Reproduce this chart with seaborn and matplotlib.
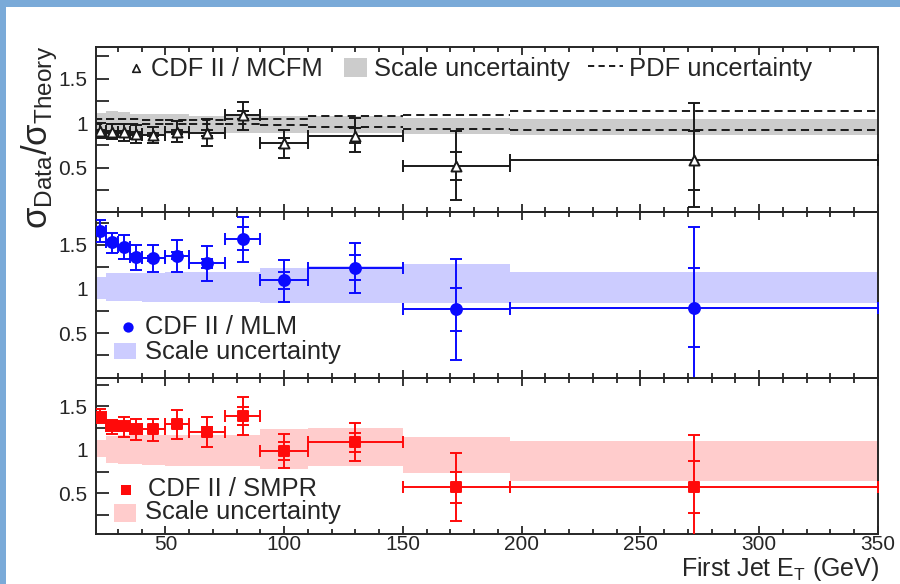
import matplotlib
matplotlib.use("Agg")
import matplotlib.pyplot as plt
import seaborn as sns
import pandas as pd
from matplotlib.patches import Rectangle

# ---- binning in leading-jet E_T (GeV) ----
bin_lo = [20, 25, 30, 35, 40, 50, 60, 75, 90, 110, 150, 195]
bin_hi = [25, 30, 35, 40, 50, 60, 75, 90, 110, 150, 195, 350]
et_center = [22.5, 27.5, 32.5, 37.5, 45, 55, 67.5, 82.5, 100, 130, 172.5, 272.5]

# ---- CDF II / MCFM ----
mcfm_ratio = [0.91, 0.90, 0.90, 0.88, 0.87, 0.90, 0.89, 1.09, 0.775, 0.86, 0.52, 0.58]
mcfm_tot_hi = [1.00, 0.99, 0.99, 0.98, 0.96, 1.02, 1.04, 1.24, 0.925, 1.06, 0.91, 1.22]
mcfm_tot_lo = [0.83, 0.82, 0.80, 0.78, 0.78, 0.79, 0.745, 0.92, 0.61, 0.68, 0.14, 0.06]
mcfm_stat = [0.01, 0.01, 0.015, 0.015, 0.015, 0.02, 0.03, 0.05, 0.06, 0.08, 0.16, 0.33]
mcfm_scale_hi = [1.11, 1.13, 1.12, 1.10, 1.10, 1.10, 1.08, 1.08, 1.08, 1.08, 1.06, 1.04]
mcfm_scale_lo = [0.87, 0.87, 0.87, 0.88, 0.88, 0.88, 0.89, 0.89, 0.89, 0.89, 0.88, 0.87]
mcfm_pdf_hi = [1.04, 1.04, 1.04, 1.04, 1.035, 1.035, 1.035, 1.045, 1.05, 1.075, 1.095, 1.14]
mcfm_pdf_lo = [0.99, 0.99, 0.99, 0.99, 0.985, 0.985, 0.985, 0.985, 0.975, 0.955, 0.935, 0.925]

# ---- CDF II / MLM ----
mlm_ratio = [1.66, 1.53, 1.47, 1.36, 1.345, 1.375, 1.29, 1.565, 1.10, 1.24, 0.77, 0.79]
mlm_tot_hi = [1.78, 1.63, 1.61, 1.50, 1.50, 1.55, 1.485, 1.81, 1.33, 1.515, 1.34, 1.705]
mlm_tot_lo = [1.53, 1.41, 1.34, 1.21, 1.19, 1.19, 1.09, 1.30, 0.85, 0.96, 0.20, -0.05]
mlm_stat = [0.02, 0.02, 0.02, 0.03, 0.03, 0.04, 0.05, 0.13, 0.095, 0.14, 0.245, 0.45]
mlm_scale_hi = [1.13, 1.18, 1.18, 1.18, 1.18, 1.19, 1.19, 1.19, 1.24, 1.26, 1.28, 1.19]
mlm_scale_lo = [0.89, 0.87, 0.86, 0.86, 0.85, 0.85, 0.85, 0.85, 0.84, 0.84, 0.845, 0.845]

# ---- CDF II / SMPR ----
smpr_ratio = [1.38, 1.27, 1.27, 1.24, 1.24, 1.30, 1.21, 1.39, 0.99, 1.09, 0.57, 0.57]
smpr_tot_hi = [1.47, 1.345, 1.38, 1.36, 1.36, 1.46, 1.38, 1.61, 1.18, 1.31, 0.97, 1.17]
smpr_tot_lo = [1.31, 1.18, 1.15, 1.115, 1.10, 1.13, 1.03, 1.17, 0.79, 0.87, 0.18, -0.05]
smpr_stat = [0.02, 0.02, 0.02, 0.03, 0.03, 0.04, 0.05, 0.10, 0.10, 0.11, 0.175, 0.30]
smpr_scale_hi = [1.12, 1.16, 1.17, 1.17, 1.17, 1.17, 1.17, 1.17, 1.24, 1.25, 1.15, 1.10]
smpr_scale_lo = [0.92, 0.85, 0.84, 0.84, 0.83, 0.82, 0.82, 0.82, 0.78, 0.82, 0.74, 0.64]

x_ticks = [50, 100, 150, 200, 250, 300, 350]
y_ticks = [0.5, 1.0, 1.5]
y_tick_labels = ["0.5", "1", "1.5"]

INK = "#262626"
FONT = "Liberation Sans"

sns.set_style("ticks")
plt.rcParams["font.family"] = [FONT, "DejaVu Sans"]
plt.rcParams["mathtext.fontset"] = "custom"
plt.rcParams["mathtext.rm"] = FONT
plt.rcParams["mathtext.it"] = FONT + ":italic"
plt.rcParams["text.color"] = INK

W, H = 900, 584
fig = plt.figure(figsize=(W / 100, H / 100), dpi=100)
fig.patch.set_facecolor("white")


def rect(top, bottom, left=96, right=878):
    return [left / W, 1 - bottom / H, (right - left) / W, (bottom - top) / H]


ax_top = fig.add_axes(rect(47, 212))
ax_mid = fig.add_axes(rect(212, 377.5))
ax_bot = fig.add_axes(rect(377.5, 534))

LW = 1.4
CAP = 4.6


def style_axis(ax, ylim, show_x_labels):
    ax.set_xlim(20.8, 350)
    ax.set_ylim(*ylim)
    ax.set_facecolor("none")
    for sp in ax.spines.values():
        sp.set_visible(True)
        sp.set_linewidth(1.4)
        sp.set_color(INK)
    ax.set_xticks(x_ticks)
    ax.set_xticks(list(range(30, 350, 10)), minor=True)
    ax.set_yticks(y_ticks)
    ax.set_yticklabels(y_tick_labels)
    ax.set_yticks([0.25, 0.75, 1.25, 1.75], minor=True)
    ax.tick_params(axis="x", which="both", direction="in", top=True, bottom=True,
                   color=INK, width=1.3, labelsize=15, labelcolor=INK, pad=1.0,
                   labelbottom=show_x_labels)
    ax.tick_params(axis="x", which="major", length=6)
    ax.tick_params(axis="x", which="minor", length=3.5)
    ax.tick_params(axis="y", which="both", direction="in", left=True, right=False,
                   color=INK, width=1.3, labelsize=15, labelcolor=INK, pad=6)
    ax.tick_params(axis="y", which="major", length=9.5)
    ax.tick_params(axis="y", which="minor", length=9.5)
    ax.set_xlabel("")
    ax.set_ylabel("")


def draw_panel(ax, ratio, tot_hi, tot_lo, stat, scale_hi, scale_lo, band_color,
               color, marker, msize, face):
    edges = bin_lo + [bin_hi[-1]]
    ax.stairs(scale_hi, edges, baseline=scale_lo, fill=True, color=band_color,
              lw=0, zorder=1)
    yerr = [[r - lo for r, lo in zip(ratio, tot_lo)],
            [hi - r for r, hi in zip(ratio, tot_hi)]]
    xerr = [[c - lo for c, lo in zip(et_center, bin_lo)],
            [hi - c for c, hi in zip(et_center, bin_hi)]]
    ax.errorbar(et_center, ratio, yerr=yerr, xerr=xerr, fmt="none", ecolor=color,
                elinewidth=LW, capsize=CAP, capthick=LW, zorder=3)
    ax.errorbar(et_center, ratio, yerr=stat, fmt="none", ecolor=color,
                elinewidth=0, capsize=CAP, capthick=LW, zorder=3)
    df = pd.DataFrame({"et": et_center, "ratio": ratio})
    sns.scatterplot(data=df, x="et", y="ratio", ax=ax, marker=marker, s=msize,
                    facecolor=face, edgecolor=color, linewidth=1.4, zorder=4,
                    legend=False)


# top: MCFM with PDF uncertainty
draw_panel(ax_top, mcfm_ratio, mcfm_tot_hi, mcfm_tot_lo, mcfm_stat,
           mcfm_scale_hi, mcfm_scale_lo, "#cccccc", "#1a1a1a", "^", 52, "white")
dash = (0, (4.2, 2.6))
ax_top.hlines(mcfm_pdf_hi, bin_lo, bin_hi, colors="#1a1a1a", linestyles=[dash],
              lw=LW, zorder=2)
ax_top.hlines(mcfm_pdf_lo, bin_lo, bin_hi, colors="#1a1a1a", linestyles=[dash],
              lw=LW, zorder=2)

# middle: MLM
draw_panel(ax_mid, mlm_ratio, mlm_tot_hi, mlm_tot_lo, mlm_stat,
           mlm_scale_hi, mlm_scale_lo, "#ccccff", "#0a0aff", "o", 62, "#0a0aff")

# bottom: SMPR
draw_panel(ax_bot, smpr_ratio, smpr_tot_hi, smpr_tot_lo, smpr_stat,
           smpr_scale_hi, smpr_scale_lo, "#ffcccc", "#ff0a0a", "s", 56, "#ff0a0a")

style_axis(ax_top, (0.0, 1.855), False)
style_axis(ax_mid, (0.0, 1.87), False)
style_axis(ax_bot, (0.034, 1.833), True)

# ---- overlay in pixel coordinates: legends, titles, slide frame ----
ov = fig.add_axes([0, 0, 1, 1])
ov.set_xlim(0, W)
ov.set_ylim(H, 0)
ov.axis("off")
ov.patch.set_visible(False)

ov.add_patch(Rectangle((0, 0), W, 7, color="#7aaad8", lw=0))
ov.add_patch(Rectangle((0, 0), 6, H, color="#7aaad8", lw=0))

LEG = 18.4
# top legend
ov.scatter([135.5], [68], marker="^", s=30, facecolor="white", edgecolor="#1a1a1a",
           linewidth=1.2, zorder=5)
ov.text(151, 76, "CDF II / MCFM", fontsize=LEG, va="baseline", ha="left")
ov.add_patch(Rectangle((344, 58), 23, 19, color="#cccccc", lw=0))
ov.text(374, 76, "Scale uncertainty", fontsize=LEG, va="baseline", ha="left")
ov.plot([588, 623], [65.5, 65.5], color="#1a1a1a", lw=LW, ls=(0, (3.2, 2.2)))
ov.text(629, 76, "PDF uncertainty", fontsize=LEG, va="baseline", ha="left")

# middle legend
ov.scatter([127.5], [326.5], marker="o", s=55, color="#0a0aff", lw=0, zorder=5)
ov.text(145, 334, "CDF II / MLM", fontsize=LEG, va="baseline", ha="left")
ov.add_patch(Rectangle((114, 343), 22, 16, color="#ccccff", lw=0))
ov.text(145, 358.5, "Scale uncertainty", fontsize=LEG, va="baseline", ha="left")

# bottom legend
ov.scatter([125.5], [490], marker="s", s=48, color="#ff0a0a", lw=0, zorder=5)
ov.text(148, 495.5, "CDF II / SMPR", fontsize=LEG, va="baseline", ha="left")
ov.add_patch(Rectangle((114, 504), 22, 18, color="#ffcccc", lw=0))
ov.text(145, 519.5, "Scale uncertainty", fontsize=LEG, va="baseline", ha="left")

# axis titles
ov.text(879, 576, r"First Jet E$_{\mathrm{T}}$ (GeV)", fontsize=18,
        va="baseline", ha="right")
ov.text(40, 137, r"σ$_{\mathrm{Data}}$/σ$_{\mathrm{Theory}}$", fontsize=25,
        rotation=90, va="center", ha="center")

fig.savefig("out.png", dpi=100)
